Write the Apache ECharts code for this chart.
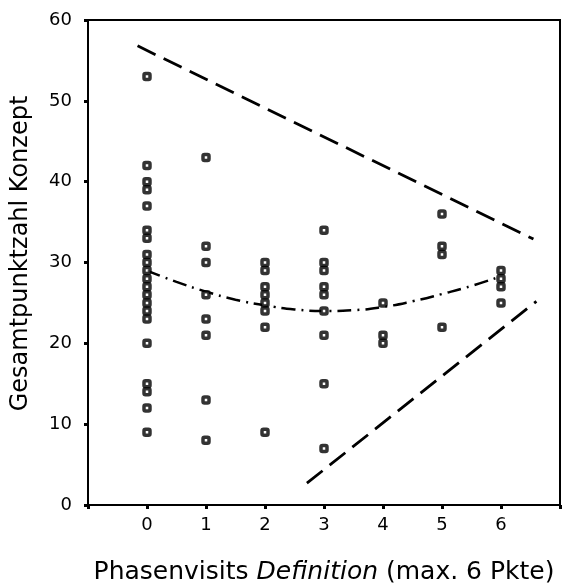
<!DOCTYPE html>
<html>
<head>
<meta charset="utf-8">
<script src="https://cdn.jsdelivr.net/npm/echarts@6/dist/echarts.min.js"></script>
<style>
  html, body { margin: 0; padding: 0; background: #fff; }
  #chart { width: 563px; height: 585px; }
</style>
</head>
<body>
<div id="chart"></div>
<script>
// Phase-visit definition score (x) vs. total concept score (y)
const xTicks = [0, 1, 2, 3, 4, 5, 6];
const scoresByX = {
  0: [53, 42, 40, 39, 37, 34, 33, 31, 30, 29, 28, 27, 26, 25, 24, 23, 20, 15, 14, 12, 9],
  1: [43, 32, 30, 26, 23, 21, 13, 8],
  2: [30, 29, 27, 26, 25, 24, 22, 9],
  3: [34, 30, 29, 27, 26, 24, 21, 15, 7],
  4: [25, 21, 20],
  5: [36, 32, 31, 22],
  6: [29, 28, 27, 25]
};

// fitted trend (dash-dot)
const trendX = [0, 0.5, 1, 1.5, 2, 2.5, 3, 3.5, 4, 4.5, 5, 5.5, 6];
const trendY = [29.0, 27.6, 26.4, 25.4, 24.7, 24.2, 24.0, 24.1, 24.5, 25.2, 26.1, 27.1, 28.3];

// upper and lower bounds (dashed)
const upperX = [-0.16, 6.55];
const upperY = [56.8, 32.9];
const lowerX = [2.71, 6.6];
const lowerY = [2.7, 25.2];

const points = [];
xTicks.forEach(x => scoresByX[x].forEach(y => points.push([x, y])));
const zip = (a, b) => a.map((v, i) => [v, b[i]]);

const FONT = 'DejaVu Sans';
const chart = echarts.init(document.getElementById('chart'));
chart.setOption({
  animation: false,
  backgroundColor: '#fff',
  grid: {
    left: 88, right: 3, top: 20, bottom: 80,
    containLabel: false, outerBoundsMode: 'none',
    show: true, borderColor: '#000', borderWidth: 2, backgroundColor: 'transparent'
  },
  xAxis: {
    type: 'value', min: -1, max: 7, interval: 1,
    splitLine: { show: false },
    axisLine: { onZero: false, lineStyle: { color: '#000', width: 2 } },
    axisTick: { show: true, length: 4, lineStyle: { color: '#000', width: 3 } },
    axisLabel: {
      color: '#000', fontFamily: FONT, fontSize: 18, margin: 11,
      formatter: v => (v >= 0 && v <= 6 ? String(v) : '')
    },
    name: '{n|Phasenvisits }{i|Definition}{n| (max. 6 Pkte)}',
    nameLocation: 'middle', nameGap: 55,
    nameTextStyle: {
      rich: {
        n: { fontFamily: FONT, fontSize: 25, color: '#000' },
        i: { fontFamily: FONT, fontSize: 25, color: '#000', fontStyle: 'italic' }
      }
    }
  },
  yAxis: {
    type: 'value', min: 0, max: 60, interval: 10,
    splitLine: { show: false },
    axisLine: { onZero: false, lineStyle: { color: '#000', width: 2 } },
    axisTick: { show: true, length: 4, lineStyle: { color: '#000', width: 3 } },
    axisLabel: { color: '#000', fontFamily: FONT, fontSize: 18, margin: 16 },
    name: 'Gesamtpunktzahl Konzept',
    nameLocation: 'middle', nameGap: 55,
    nameTextStyle: { fontFamily: FONT, fontSize: 24, color: '#000', padding: [0, 0, 0, 18] }
  },
  series: [
    {
      type: 'line', data: zip(upperX, upperY), showSymbol: false, silent: true,
      lineStyle: { color: '#000', width: 2.8, type: [20, 9] }
    },
    {
      type: 'line', data: zip(lowerX, lowerY), showSymbol: false, silent: true,
      lineStyle: { color: '#000', width: 2.8, type: [20, 9] }
    },
    {
      type: 'line', data: zip(trendX, trendY), showSymbol: false, smooth: true, silent: true,
      lineStyle: { color: '#000', width: 2.5, type: [14, 6, 2, 6] }
    },
    {
      type: 'scatter', data: points, symbol: 'roundRect', symbolSize: 6,
      itemStyle: { color: '#fff', borderColor: '#000', borderWidth: 3.5 },
      z: 5
    }
  ]
});
</script>
</body>
</html>
